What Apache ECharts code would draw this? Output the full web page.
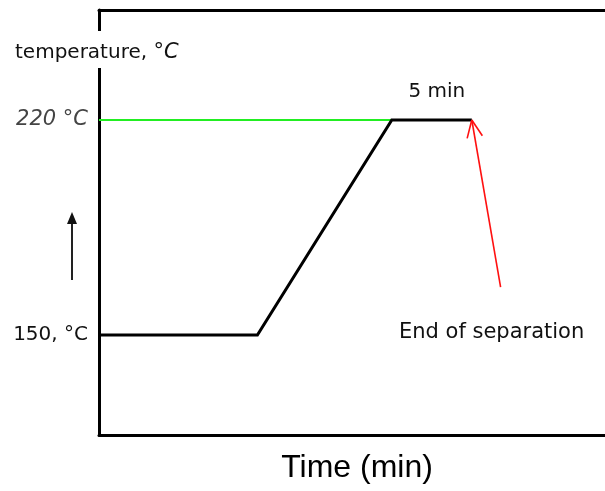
<!DOCTYPE html>
<html>
<head>
<meta charset="utf-8">
<script src="https://cdn.jsdelivr.net/npm/echarts@6/dist/echarts.min.js"></script>
<style>
  html, body { margin: 0; padding: 0; background: #fff; }
  #chart { width: 605px; height: 491px; }
</style>
</head>
<body>
<div id="chart"></div>
<script>
// Temperature programme of the oven (time in min, temperature in °C)
const profileTime = [0, 9.9, 18.3, 23.3];
const profileTemp = [150, 150, 220, 220];

// Green reference level drawn at the final temperature
const refTime = [0, 18.3];
const refTemp = [220, 220];

// Labelled temperature levels on the vertical axis
const levelTemps = [220, 150];
const levelLabels = ['220 °C', '150, °C'];

// Hold annotation on the final plateau
const holdLabel = '5 min';
const holdMid = [20.8, 220];

// Arrow marking the end of the run: tail (time, temp) -> tip (time, temp)
const endArrow = [25.1, 165.6, 23.3, 220];
const endLabel = 'End of separation';

const axisTitleX = 'Time (min)';
const axisTitleY = 'temperature, ';

const FONT = '"DejaVu Sans", sans-serif';

const chart = echarts.init(document.getElementById('chart'), null, { renderer: 'canvas' });

const zip = (xs, ys) => xs.map((x, i) => [x, ys[i]]);

chart.setOption({
  animation: false,
  backgroundColor: '#fff',
  grid: { left: 99, right: 0, top: 10, bottom: 56 },
  xAxis: [
    {
      type: 'value', min: 0, max: 31.625, position: 'bottom',
      axisLine: { show: true, lineStyle: { color: '#000', width: 3 } },
      axisTick: { show: false }, axisLabel: { show: false }, splitLine: { show: false },
      name: axisTitleX, nameLocation: 'middle', nameGap: 17,
      nameTextStyle: { fontFamily: '"Liberation Sans", Arial, sans-serif', fontSize: 32, color: '#000', padding: [0, 0, 0, 10] }
    },
    {
      type: 'value', min: 0, max: 31.625, position: 'top',
      axisLine: { show: true, onZero: false, lineStyle: { color: '#000', width: 3 } },
      axisTick: { show: false }, axisLabel: { show: false }, splitLine: { show: false }
    }
  ],
  yAxis: {
    type: 'value', min: 117.44, max: 255.81,
    axisLine: { show: true, lineStyle: { color: '#000', width: 3 } },
    axisTick: { show: false }, axisLabel: { show: false }, splitLine: { show: false }
  },
  series: [
    {
      type: 'line', data: zip(refTime, refTemp), symbol: 'none', z: 2,
      lineStyle: { color: '#22ee22', width: 2 }
    },
    {
      type: 'line', data: zip(profileTime, profileTemp), symbol: 'none', z: 3,
      lineStyle: { color: '#000', width: 3, join: 'miter' }
    },
    {
      type: 'scatter', symbol: 'circle', symbolSize: 0, z: 4,
      itemStyle: { color: '#000', opacity: 1 },
      data: levelTemps.map((t, i) => ({
        value: [0, t],
        label: {
          show: true, position: 'left', distance: 11,
          formatter: levelLabels[i],
          fontFamily: FONT,
          fontSize: i === 0 ? 21 : 20,
          fontStyle: i === 0 ? 'italic' : 'normal',
          color: i === 0 ? '#444' : '#111'
        }
      }))
    },
    {
      type: 'scatter', symbol: 'circle', symbolSize: 0, z: 4,
      itemStyle: { color: '#000', opacity: 1 },
      data: [{
        value: holdMid,
        label: {
          show: true, position: 'top', distance: 18, offset: [5, 0],
          formatter: holdLabel, fontFamily: FONT, fontSize: 20, color: '#111'
        }
      }]
    },
    {
      type: 'custom', z: 5,
      data: [endArrow],
      renderItem: function (params, api) {
        const tail = api.coord([api.value(0), api.value(1)]);
        const tip = api.coord([api.value(2), api.value(3)]);
        const ang = Math.atan2(tail[1] - tip[1], tail[0] - tip[0]);
        const len = 19, spread = 24 * Math.PI / 180;
        const b1 = [tip[0] + len * Math.cos(ang + spread), tip[1] + len * Math.sin(ang + spread)];
        const b2 = [tip[0] + len * Math.cos(ang - spread), tip[1] + len * Math.sin(ang - spread)];
        const red = { stroke: '#ff1010', lineWidth: 1.6, fill: null };
        return {
          type: 'group',
          children: [
            { type: 'line', shape: { x1: tail[0], y1: tail[1], x2: tip[0], y2: tip[1] }, style: red },
            { type: 'line', shape: { x1: tip[0], y1: tip[1], x2: b1[0], y2: b1[1] }, style: red },
            { type: 'line', shape: { x1: tip[0], y1: tip[1], x2: b2[0], y2: b2[1] }, style: red },
            {
              type: 'text', x: tail[0] - 9, y: tail[1] + 45,
              style: { text: endLabel, fontFamily: FONT, fontSize: 21, fill: '#111', align: 'center', verticalAlign: 'middle' }
            }
          ]
        };
      }
    }
  ],
  graphic: [
    {
      type: 'text', left: 15, top: 31, z: 100,
      style: {
        rich: {
          a: { fontFamily: FONT, fontSize: 20, fill: '#111' },
          b: { fontFamily: FONT, fontSize: 21, fontStyle: 'italic', fill: '#111' }
        },
        text: '{a|' + axisTitleY + '}{b|°C}',
        backgroundColor: '#fff',
        padding: [11, 4, 5, 0]
      }
    },
    {
      type: 'group', z: 100,
      children: [
        { type: 'line', shape: { x1: 72, y1: 222, x2: 72, y2: 280 }, style: { stroke: '#222', lineWidth: 2 } },
        { type: 'polygon', shape: { points: [[72, 212], [67, 224], [77, 224]] }, style: { fill: '#111' } }
      ]
    }
  ]
});
</script>
</body>
</html>
